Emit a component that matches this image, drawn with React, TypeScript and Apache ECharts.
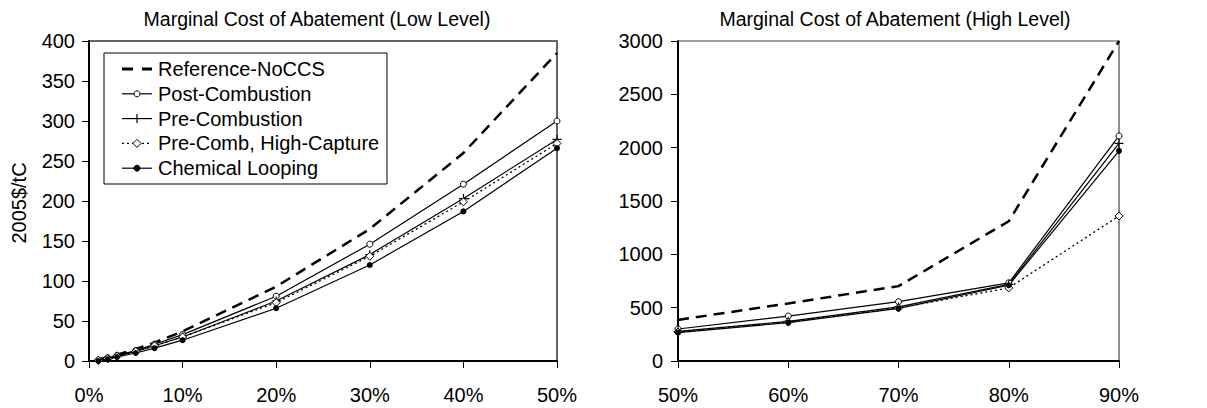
import React, { useEffect, useRef } from "react";
import * as echarts from "echarts";

const seriesNames = [
  "Reference-NoCCS",
  "Post-Combustion",
  "Pre-Combustion",
  "Pre-Comb, High-Capture",
  "Chemical Looping",
];

// Low level (left panel)
const xLow = [1, 2, 3, 5, 7, 10, 20, 30, 40, 50];
const refLow = [2, 5, 8, 15, 23, 37, 93, 165, 260, 385];
const postLow = [1, 4, 7, 13, 21, 33, 81, 146, 221, 300];
const preLow = [1, 3, 6, 12, 19, 30, 75, 133, 203, 277];
const hcLow = [1, 3, 6, 12, 19, 30, 73, 131, 199, 272];
const chemLow = [0, 2, 5, 10, 16, 26, 66, 120, 187, 266];

// High level (right panel)
const xHigh = [50, 60, 70, 80, 90];
const refHigh = [385, 540, 702, 1310, 3000];
const postHigh = [300, 421, 556, 733, 2110];
const preHigh = [277, 372, 507, 718, 2040];
const hcHigh = [272, 365, 497, 685, 1360];
const chemHigh = [266, 360, 493, 710, 1970];

const titles = [
  "Marginal Cost of Abatement (Low Level)",
  "Marginal Cost of Abatement (High Level)",
];
const yAxisTitle = "2005$/tC";

const FONT = "Liberation Sans, Arial, sans-serif";
const PLUS = "path://M4.4,0H5.6V4.4H10V5.6H5.6V10H4.4V5.6H0V4.4H4.4Z";

function pairs(xs: number[], ys: number[]) {
  return xs.map((x, i) => [x, ys[i]]);
}

const styles = [
  { symbol: "none", symbolSize: 0, lineStyle: { color: "#000", width: 2.5, type: [11, 7] }, itemStyle: { color: "#000" } },
  { symbol: "circle", symbolSize: 6, lineStyle: { color: "#000", width: 1.2 }, itemStyle: { color: "#fff", borderColor: "#000", borderWidth: 1 } },
  { symbol: PLUS, symbolSize: 9, lineStyle: { color: "#000", width: 1.2 }, itemStyle: { color: "#000" } },
  { symbol: "diamond", symbolSize: 8, lineStyle: { color: "#000", width: 1.3, type: [2, 3] }, itemStyle: { color: "#fff", borderColor: "#000", borderWidth: 1 } },
  { symbol: "circle", symbolSize: 6, lineStyle: { color: "#000", width: 1.2 }, itemStyle: { color: "#000" } },
];

function makeSeries(idx: number, xs: number[], sets: number[][]) {
  return sets.map((ys, k) => ({
    type: "line",
    name: seriesNames[k],
    xAxisIndex: idx,
    yAxisIndex: idx,
    data: pairs(xs, ys),
    showSymbol: styles[k].symbol !== "none",
    symbol: styles[k].symbol,
    symbolSize: styles[k].symbolSize,
    lineStyle: styles[k].lineStyle,
    itemStyle: styles[k].itemStyle,
    clip: false,
    z: 3,
  }));
}

function legendGraphics() {
  const bx = 104, by = 53, bw = 283, bh = 131;
  const rowY0 = 69, rowStep = 24.8;
  const x1 = 122, x2 = 152, xm = 137, tx = 158;
  const els: any[] = [
    { type: "rect", shape: { x: bx, y: by, width: bw, height: bh }, style: { fill: "#fff", stroke: "#000", lineWidth: 1 }, z: 10 },
  ];
  seriesNames.forEach((name, k) => {
    const y = rowY0 + rowStep * k;
    if (k === 0) {
      els.push({ type: "line", shape: { x1: x1, y1: y, x2: x1 + 11, y2: y }, style: { stroke: "#000", lineWidth: 3 }, z: 11 });
      els.push({ type: "line", shape: { x1: x1 + 20, y1: y, x2: x2, y2: y }, style: { stroke: "#000", lineWidth: 3 }, z: 11 });
    } else if (k === 3) {
      els.push({ type: "line", shape: { x1: x1, y1: y, x2: x2, y2: y }, style: { stroke: "#000", lineWidth: 1.3, lineDash: [2, 3] }, z: 11 });
      els.push({ type: "polygon", shape: { points: [[xm, y - 4], [xm + 4, y], [xm, y + 4], [xm - 4, y]] }, style: { fill: "#fff", stroke: "#000", lineWidth: 1 }, z: 12 });
    } else {
      els.push({ type: "line", shape: { x1: x1, y1: y, x2: x2, y2: y }, style: { stroke: "#000", lineWidth: 1.2 }, z: 11 });
      if (k === 1) {
        els.push({ type: "circle", shape: { cx: xm, cy: y, r: 3 }, style: { fill: "#fff", stroke: "#000", lineWidth: 1 }, z: 12 });
      } else if (k === 2) {
        els.push({ type: "line", shape: { x1: xm, y1: y - 4.5, x2: xm, y2: y + 4.5 }, style: { stroke: "#000", lineWidth: 1.2 }, z: 12 });
      } else {
        els.push({ type: "circle", shape: { cx: xm, cy: y, r: 3 }, style: { fill: "#000", stroke: "#000", lineWidth: 1 }, z: 12 });
      }
    }
    els.push({ type: "text", x: tx, y: y, style: { text: name, align: "left", verticalAlign: "middle", fontSize: 20, fontFamily: FONT, fill: "#000" }, z: 12 });
  });
  return els;
}

export default function App() {
  const ref = useRef<HTMLDivElement>(null);
  useEffect(() => {
    document.body.style.margin = "0";
    const chart = echarts.init(ref.current!, null, { renderer: "svg" });
    const axisLine = { show: true, lineStyle: { color: "#000", width: 2 } };
    const axisTick = { show: true, length: 7, lineStyle: { color: "#000", width: 1 } };
    const labelStyle = { color: "#000", fontSize: 20, fontFamily: FONT };
    chart.setOption({
      animation: false,
      backgroundColor: "#fff",
      grid: [
        { left: 89, right: 650, top: 41, bottom: 47, show: true, borderColor: "#333", borderWidth: 1.5 },
        { left: 678, right: 88, top: 41, bottom: 47, show: true, borderColor: "#444", borderWidth: 1.2 },
      ],
      xAxis: [
        {
          type: "value", gridIndex: 0, min: 0, max: 50, interval: 10,
          axisLine, axisTick, splitLine: { show: false },
          axisLabel: { ...labelStyle, margin: 24, formatter: "{value}%" },
        },
        {
          type: "value", gridIndex: 1, min: 50, max: 90, interval: 10,
          axisLine, axisTick, splitLine: { show: false },
          axisLabel: { ...labelStyle, margin: 24, formatter: "{value}%" },
        },
      ],
      yAxis: [
        {
          type: "value", gridIndex: 0, min: 0, max: 400, interval: 50,
          axisLine, axisTick, splitLine: { show: false },
          axisLabel: { ...labelStyle, margin: 14, formatter: (v: number) => String(v) },
        },
        {
          type: "value", gridIndex: 1, min: 0, max: 3000, interval: 500,
          axisLine, axisTick, splitLine: { show: false },
          axisLabel: { ...labelStyle, margin: 15, formatter: (v: number) => String(v) },
        },
      ],
      graphic: [
        { type: "text", x: 317, y: 19, style: { text: titles[0], align: "center", verticalAlign: "middle", fontSize: 19.5, fontFamily: FONT, fill: "#000" } },
        { type: "text", x: 895, y: 19, style: { text: titles[1], align: "center", verticalAlign: "middle", fontSize: 19.5, fontFamily: FONT, fill: "#000" } },
        { type: "text", x: 19, y: 203, rotation: Math.PI / 2, style: { text: yAxisTitle, align: "center", verticalAlign: "middle", fontSize: 20, fontFamily: FONT, fill: "#000" } },
        ...legendGraphics(),
      ],
      series: [
        ...makeSeries(0, xLow, [refLow, postLow, preLow, hcLow, chemLow]),
        ...makeSeries(1, xHigh, [refHigh, postHigh, preHigh, hcHigh, chemHigh]),
      ],
    });
    return () => chart.dispose();
  }, []);
  return <div ref={ref} style={{ width: 1207, height: 408 }} />;
}
